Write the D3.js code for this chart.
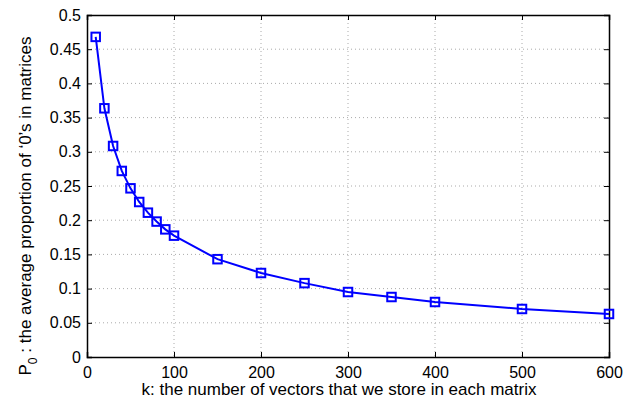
<!DOCTYPE html>
<html>
<head>
<meta charset="utf-8">
<script src="https://cdn.jsdelivr.net/npm/d3@7"></script>
<style>
  body { margin: 0; background: #fff; }
  svg { display: block; font-family: "Liberation Sans", Arial, sans-serif; }
</style>
</head>
<body>
<div class="chart"></div>
<script>
// data
const kValues = [10, 20, 30, 40, 50, 60, 70, 80, 90, 100, 150, 200, 250, 300, 350, 400, 500, 600];
const p0Values = [0.468, 0.3636, 0.3085, 0.272, 0.2466, 0.2266, 0.211, 0.198, 0.1866, 0.1774,
    0.143, 0.1228, 0.108, 0.095, 0.0877, 0.0804, 0.0702, 0.0629];
const xTicks = [0, 100, 200, 300, 400, 500, 600];
const yTicks = [0, 0.05, 0.1, 0.15, 0.2, 0.25, 0.3, 0.35, 0.4, 0.45, 0.5];

const lineColor = '#0000ff';

const margin = { top: 15, right: 24, bottom: 42, left: 87 };
const outerWidth = 633;
const outerHeight = 399;
const width = outerWidth - margin.left - margin.right;
const height = outerHeight - margin.top - margin.bottom;

const svg = d3.select('.chart').append('svg')
    .attr('width', outerWidth)
    .attr('height', outerHeight);

const g = svg.append('g')
    .attr('transform', `translate(${margin.left}, ${margin.top})`);

const x = d3.scaleLinear().domain([0, 600]).range([0, width]);
const y = d3.scaleLinear().domain([0, 0.5]).range([height, 0]);

// Grid
g.append('g').selectAll('line')
    .data(xTicks.slice(1, -1))
    .join('line')
    .attr('x1', d => x(d)).attr('x2', d => x(d))
    .attr('y1', 0).attr('y2', height)
    .attr('stroke', '#aaa').attr('stroke-width', 1)
    .attr('stroke-dasharray', '1,3');

g.append('g').selectAll('line')
    .data(yTicks.slice(1, -1))
    .join('line')
    .attr('y1', d => y(d)).attr('y2', d => y(d))
    .attr('x1', 0).attr('x2', width)
    .attr('stroke', '#aaa').attr('stroke-width', 1)
    .attr('stroke-dasharray', '1,3');

// Axes (inner ticks, mirrored on top/right)
const xAxis = d3.axisBottom(x).tickValues(xTicks).tickSize(-5).tickPadding(10).tickFormat(d3.format('d'));
const yAxis = d3.axisLeft(y).tickValues(yTicks).tickSize(-5).tickPadding(6).tickFormat(d => d === 0 ? '0' : d3.format('')(+d.toFixed(2)));

const gx = g.append('g').attr('transform', `translate(0, ${height})`).call(xAxis);
const gy = g.append('g').call(yAxis);
const gxTop = g.append('g').call(d3.axisTop(x).tickValues(xTicks).tickSize(-5).tickFormat(''));
const gyRight = g.append('g').attr('transform', `translate(${width}, 0)`)
    .call(d3.axisRight(y).tickValues(yTicks).tickSize(-5).tickFormat(''));

[gx, gy, gxTop, gyRight].forEach(a => {
    a.select('.domain').attr('stroke', '#000').attr('stroke-width', 1.5);
    a.selectAll('.tick line').attr('stroke', '#000').attr('stroke-width', 1);
    a.selectAll('.tick text').attr('fill', '#000').style('font-size', '16px');
});

// Axis labels
svg.append('text')
    .attr('x', 339)
    .attr('y', 395)
    .attr('text-anchor', 'middle')
    .style('font-size', '17px')
    .text('k: the number of vectors that we store in each matrix');

const yLabel = svg.append('text')
    .attr('transform', `translate(31, 206) rotate(-90)`)
    .attr('text-anchor', 'middle')
    .style('font-size', '17px');
yLabel.append('tspan').text('P');
yLabel.append('tspan').attr('dy', 6).style('font-size', '12px').text('0');
yLabel.append('tspan').attr('dy', -6).text(' :  the average proportion of \u20180\u2019s in matrices');

// Line and markers
const points = kValues.map((k, i) => [k, p0Values[i]]);

g.append('path')
    .datum(points)
    .attr('fill', 'none')
    .attr('stroke', lineColor)
    .attr('stroke-width', 2)
    .attr('d', d3.line().x(d => x(d[0])).y(d => y(d[1])));

const s = 8.5;
g.append('g').selectAll('rect')
    .data(points)
    .join('rect')
    .attr('x', d => x(d[0]) - s / 2)
    .attr('y', d => y(d[1]) - s / 2)
    .attr('width', s).attr('height', s)
    .attr('fill', 'none')
    .attr('stroke', lineColor)
    .attr('stroke-width', 2);
</script>
</body>
</html>
